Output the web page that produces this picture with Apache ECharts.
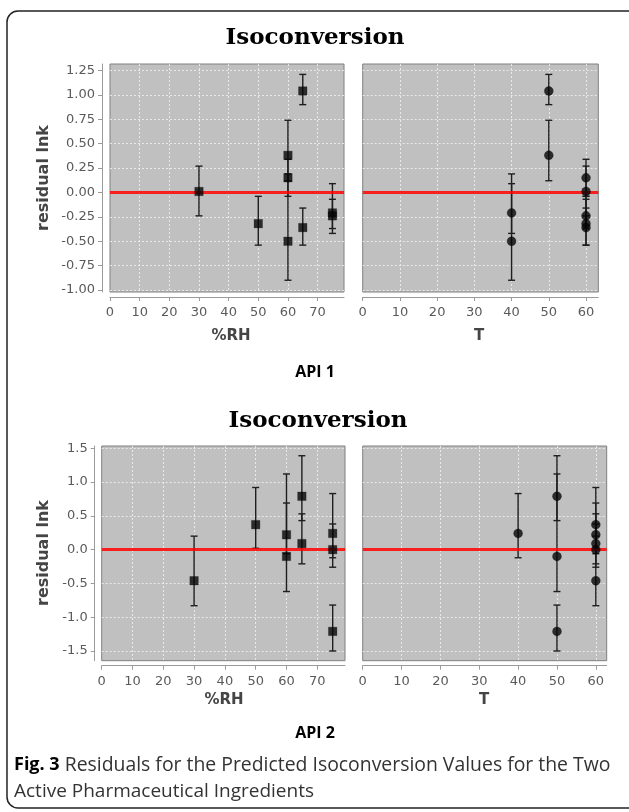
<!DOCTYPE html>
<html>
<head>
<meta charset="utf-8">
<script src="https://cdn.jsdelivr.net/npm/echarts@6/dist/echarts.min.js"></script>
<style>
  html, body { margin: 0; padding: 0; background: #ffffff; }
  #chart { width: 629px; height: 812px; }
</style>
</head>
<body>
<div id="chart"></div>
<script>
// ---- Data ----
// API 1 experiments: relative humidity, temperature, residual ln k and error-bar bounds
const api1RH  = [30, 50, 60, 60, 60, 65, 65, 75, 75];
const api1T   = [60, 60, 50, 60, 40, 50, 60, 40, 60];
const api1Res = [0.01, -0.32, 0.38, 0.15, -0.50, 1.04, -0.36, -0.21, -0.24];
const api1Lo  = [-0.24, -0.54, 0.12, -0.04, -0.90, 0.90, -0.54, -0.42, -0.37];
const api1Hi  = [0.27, -0.04, 0.74, 0.34, 0.19, 1.21, -0.16, 0.09, -0.07];

// API 2 experiments
const api2RH  = [30, 50, 60, 60, 65, 65, 75, 75, 75];
const api2T   = [60, 60, 60, 50, 50, 60, 40, 60, 50];
const api2Res = [-0.46, 0.37, 0.22, -0.10, 0.79, 0.09, 0.24, 0.00, -1.21];
const api2Lo  = [-0.83, 0.02, -0.06, -0.62, 0.43, -0.21, -0.12, -0.26, -1.50];
const api2Hi  = [0.20, 0.92, 0.69, 1.12, 1.39, 0.53, 0.83, 0.38, -0.82];

// Axis ranges / tick steps
const api1YRange = [-1.0, 1.25];  const api1YStep = 0.25;
const api2YRange = [-1.5, 1.5];   const api2YStep = 0.5;
const xStep = 10;
const residualZero = 0;

// Text
const chartTitle = 'Isoconversion';
const yAxisName = 'residual lnk';
const xNames = ['%RH', 'T'];
const panelCaptions = ['API 1', 'API 2'];

// ---- Layout (pixels) ----
const panels = [
  { frame: [110, 64, 234, 228], data: [70.5, 219.5], xMax: 78.9, x: api1RH, y: api1Res, lo: api1Lo, hi: api1Hi,
    yr: api1YRange, ys: api1YStep, dec: 2, sym: 'rect', labels: true, yOff: 8, xOff: 5, xMargin: 9 },
  { frame: [362.7, 64, 235.6, 228], data: [70.5, 219.5], xMax: 63.3, x: api1T, y: api1Res, lo: api1Lo, hi: api1Hi,
    yr: api1YRange, ys: api1YStep, dec: 2, sym: 'circle', labels: false, yOff: 8, xOff: 5, xMargin: 9 },
  { frame: [101.7, 446, 243.3, 214.7], data: [448.3, 202.7], xMax: 79, x: api2RH, y: api2Res, lo: api2Lo, hi: api2Hi,
    yr: api2YRange, ys: api2YStep, dec: 1, sym: 'rect', labels: true, yOff: 7, xOff: 5, xMargin: 9 },
  { frame: [362.7, 446, 244, 214.7], data: [448.3, 202.7], xMax: 62.8, x: api2T, y: api2Res, lo: api2Lo, hi: api2Hi,
    yr: api2YRange, ys: api2YStep, dec: 1, sym: 'circle', labels: false, yOff: 7, xOff: 5, xMargin: 9 }
];

const gridStyle = { color: 'rgba(240,240,240,0.85)', width: 1, type: [2, 2] };
const axisGray = '#9a9a9a';
const labelStyle = { color: '#5a5a5a', fontFamily: 'DejaVu Sans', fontSize: 13 };

const grids = [], xAxes = [], yAxes = [], series = [];

panels.forEach((p, i) => {
  const [L, T, W, H] = p.frame;
  const fi = 2 * i, di = 2 * i + 1;
  grids.push({ left: L, top: T, width: W, height: H, show: true, backgroundColor: '#c0c0c0',
               borderColor: '#808080', borderWidth: 1, z: 0 });
  grids.push({ left: L, top: p.data[0], width: W, height: p.data[1], show: false, z: 1 });

  xAxes.push({ type: 'value', gridIndex: fi, min: 0, max: p.xMax, interval: xStep, offset: p.xOff, z: 2,
    position: 'bottom',
    axisLine: { show: true, onZero: false, lineStyle: { color: axisGray, width: 1 } },
    axisTick: { show: true, length: 4, lineStyle: { color: axisGray } },
    axisLabel: { show: true, margin: p.xMargin, showMaxLabel: false, ...labelStyle },
    splitLine: { show: true, showMinLine: false, showMaxLine: false, lineStyle: gridStyle } });
  xAxes.push({ type: 'value', gridIndex: di, min: 0, max: p.xMax, interval: xStep, show: false,
    axisLine: { onZero: false } });

  yAxes.push({ type: 'value', gridIndex: fi, min: 0, max: 1, offset: p.yOff, z: 2, position: 'left',
    axisLine: { show: p.labels, onZero: false, lineStyle: { color: axisGray, width: 1 } },
    axisTick: { show: false }, axisLabel: { show: false }, splitLine: { show: false } });
  yAxes.push({ type: 'value', gridIndex: di, min: p.yr[0], max: p.yr[1], interval: p.ys, offset: p.yOff, z: 2,
    position: 'left',
    axisLine: { show: false, onZero: false },
    axisTick: { show: p.labels, length: 4, lineStyle: { color: axisGray } },
    axisLabel: { show: p.labels, margin: 7, formatter: v => v.toFixed(p.dec), ...labelStyle },
    splitLine: { show: true, lineStyle: gridStyle } });

  const errData = p.x.map((xv, k) => [xv, p.lo[k], p.hi[k]]);
  series.push({
    type: 'custom', xAxisIndex: di, yAxisIndex: di, z: 3, silent: true, clip: false,
    data: errData,
    renderItem: (params, api) => {
      const xv = api.value(0);
      const a = api.coord([xv, api.value(1)]);
      const b = api.coord([xv, api.value(2)]);
      const w = 3.5;
      const st = { stroke: '#1e1e1e', lineWidth: 1.4 };
      return { type: 'group', children: [
        { type: 'line', shape: { x1: a[0], y1: a[1], x2: b[0], y2: b[1] }, style: st },
        { type: 'line', shape: { x1: a[0] - w, y1: a[1], x2: a[0] + w, y2: a[1] }, style: st },
        { type: 'line', shape: { x1: b[0] - w, y1: b[1], x2: b[0] + w, y2: b[1] }, style: st }
      ]};
    },
    markLine: { silent: true, symbol: 'none', label: { show: false }, animation: false,
      lineStyle: { color: 'rgba(255,0,0,0.85)', width: 3, type: 'solid' },
      data: [{ yAxis: residualZero }] }
  });
  series.push({
    type: 'scatter', xAxisIndex: di, yAxisIndex: di, z: 5, silent: true,
    symbol: p.sym, symbolSize: p.sym === 'rect' ? 8.5 : 9,
    itemStyle: { color: '#050505', borderColor: 'rgba(0,0,0,0.35)', borderWidth: 0.8 },
    data: p.x.map((xv, k) => [xv, p.y[k]])
  });
});

const txt = (x, y, text, font, extra) => ({
  type: 'text', x: x, y: y, silent: true,
  style: Object.assign({ text: text, font: font, fill: '#000', textAlign: 'center', textVerticalAlign: 'middle' }, extra || {})
});

const graphics = [
  { type: 'rect', shape: { x: 7, y: 11, width: 660, height: 797, r: 11 }, silent: true,
    style: { fill: 'none', stroke: '#222', lineWidth: 1.5 } },
  txt(315, 38, chartTitle, 'bold 23px "DejaVu Serif"'),
  txt(318, 421, chartTitle, 'bold 23px "DejaVu Serif"'),
  txt(44, 178, yAxisName, 'bold 16px "DejaVu Sans"', { fill: '#454545' }),
  txt(44, 553, yAxisName, 'bold 16px "DejaVu Sans"', { fill: '#454545' }),
  txt(231, 336, xNames[0], 'bold 15px "DejaVu Sans"', { fill: '#454545' }),
  txt(479, 336, xNames[1], 'bold 15px "DejaVu Sans"', { fill: '#454545' }),
  txt(224, 700, xNames[0], 'bold 15px "DejaVu Sans"', { fill: '#454545' }),
  txt(484, 700, xNames[1], 'bold 15px "DejaVu Sans"', { fill: '#454545' }),
  txt(315, 372, panelCaptions[0], 'bold 16px "Open Sans"'),
  txt(315, 733, panelCaptions[1], 'bold 16px "Open Sans"'),
  { type: 'text', x: 14, y: 765, silent: true,
    style: { text: '{b|Fig. 3} Residuals for the Predicted Isoconversion Values for the Two',
      font: '19.4px "Open Sans"', fill: '#333', textAlign: 'left', textVerticalAlign: 'middle',
      rich: { b: { font: 'bold 18px "Open Sans"', fill: '#000' } } } },
  txt(14, 792, 'Active Pharmaceutical Ingredients', '19px "Open Sans"', { fill: '#333', textAlign: 'left' })
];
graphics[3].rotation = Math.PI / 2;
graphics[4].rotation = Math.PI / 2;

const chart = echarts.init(document.getElementById('chart'), null, { renderer: 'canvas' });
chart.setOption({
  animation: false,
  backgroundColor: '#ffffff',
  grid: grids, xAxis: xAxes, yAxis: yAxes, series: series,
  graphic: graphics
});
</script>
</body>
</html>
